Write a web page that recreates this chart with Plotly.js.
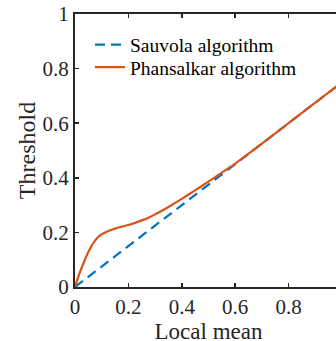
<!DOCTYPE html>
<html>
<head>
<meta charset="utf-8">
<script src="https://cdn.plot.ly/plotly-3.0.1.min.js"></script>
<style>
html,body{margin:0;padding:0;overflow:hidden;background:#fff;}
#chart{width:342px;height:346px;}
</style>
</head>
<body>
<div id="chart"></div>
<script>
var sauvolaX = [0, 0.2, 0.4, 0.6, 0.8, 1.0];
var sauvolaY = [0, 0.15, 0.30, 0.45, 0.60, 0.75];

var phansalkarX = [0, 0.005, 0.0125, 0.02, 0.03, 0.04, 0.05, 0.06, 0.07, 0.08, 0.09, 0.1, 0.115, 0.13, 0.15, 0.175, 0.2, 0.225, 0.25, 0.275, 0.3, 0.325, 0.35, 0.375, 0.4, 0.45, 0.5, 0.55, 0.6, 0.7, 0.8, 0.9, 1.0];
var phansalkarY = [0, 0.016, 0.037, 0.058, 0.083, 0.107, 0.128, 0.147, 0.163, 0.176, 0.186, 0.193, 0.201, 0.207, 0.214, 0.221, 0.227, 0.235, 0.244, 0.254, 0.266, 0.279, 0.293, 0.308, 0.323, 0.354, 0.386, 0.419, 0.452, 0.525, 0.6, 0.675, 0.75];

var seriesNames = ['Sauvola algorithm', 'Phansalkar algorithm'];
var tickVals = [0, 0.2, 0.4, 0.6, 0.8, 1];
var tickText = ['0', '0.2', '0.4', '0.6', '0.8', '1'];

var axisColor = '#262626';
var serif = 'Liberation Serif';

var traces = [
  {x: sauvolaX, y: sauvolaY, type: 'scatter', mode: 'lines', name: seriesNames[0], legend: 'legend',
   line: {color: '#0072BD', width: 2.2, dash: '10px,6px'}},
  {x: phansalkarX, y: phansalkarY, type: 'scatter', mode: 'lines', name: seriesNames[1], legend: 'legend2',
   line: {color: '#D95319', width: 2.2, shape: 'spline', smoothing: 0.5}}
];

var legendFont = {family: serif, size: 19.5, color: '#000'};

var layout = {
  width: 342, height: 346,
  margin: {l: 75, r: 0, t: 14, b: 59},
  paper_bgcolor: '#fff', plot_bgcolor: '#fff',
  font: {family: serif, color: axisColor},
  showlegend: true,
  legend: {x: 0.056, y: 0.958, xanchor: 'left', yanchor: 'top', bgcolor: 'rgba(0,0,0,0)', font: legendFont},
  legend2: {x: 0.056, y: 0.876, xanchor: 'left', yanchor: 'top', bgcolor: 'rgba(0,0,0,0)', font: legendFont},
  xaxis: {range: [0, 1], tickvals: tickVals, ticktext: tickText, ticks: 'inside', ticklen: 4, tickwidth: 1.5,
          tickcolor: axisColor, showline: true, linecolor: axisColor, linewidth: 2, mirror: 'ticks',
          showgrid: false, zeroline: false, tickfont: {family: serif, size: 21, color: axisColor},
          title: {text: 'Local mean', font: {family: serif, size: 23, color: axisColor}, standoff: 5}},
  yaxis: {range: [0, 1], tickvals: tickVals, ticktext: tickText, ticks: 'inside', ticklen: 4, tickwidth: 1.5,
          tickcolor: axisColor, showline: true, linecolor: axisColor, linewidth: 2, mirror: 'ticks',
          showgrid: false, zeroline: false, tickfont: {family: serif, size: 21, color: axisColor},
          title: {text: 'Threshold', font: {family: serif, size: 24, color: axisColor}, standoff: 0}}
};

Plotly.newPlot('chart', traces, layout, {displayModeBar: false, staticPlot: true});
</script>
</body>
</html>
